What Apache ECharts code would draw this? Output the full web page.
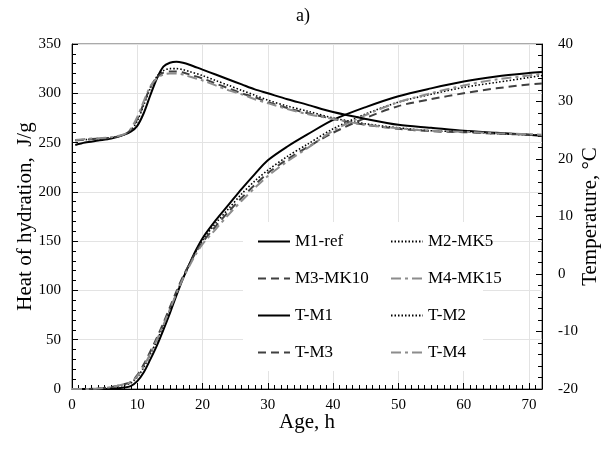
<!DOCTYPE html>
<html><head><meta charset="utf-8">
<script src="https://cdn.jsdelivr.net/npm/echarts@6/dist/echarts.min.js"></script>
<style>html,body{margin:0;padding:0;background:#fff}#c{width:606px;height:449px}</style>
</head><body><div id="c"></div>
<script>
// Heat of hydration (J/g) vs age (h)
const ageHeat = [0,2,4,6,8,9,10,11,12,13,14,15,16,17,18,19,20,22,24,26,28,30,33,36,40,45,50,55,60,65,70,72];
const heatM1 = [0,0,0,0.3,1.5,3,8,17,30,44,60,77,95,112,127,141,153,171,187,203,218,232,246,258,273,286,297,305,312,317,320.5,321.5];
const heatM2 = [0,0,0.5,1.5,4,6,12,22,35,49,64,80,97,113,127,140,151,168,183,198,211,222,236,248,264,279,291,299,306,311,316,318];
const heatM3 = [0,0,0.5,2,5,7,14,25,38,52,67,83,99,114,127,139,149,165,180,194,207,219,233,245,260,275,287,294,300,305,309,310];
const heatM4 = [0,0,0.5,2,5,7,13,23,36,50,65,81,97,112,125,137,147,162,177,191,204,216,231,244,262,278,291,300,308,314,318,320];
// Temperature (°C) vs age (h)
const ageTemp = [0.5,2,4,6,8,9,10,11,12,13,14,15,16,17,18,20,22,24,26,28,30,33,36,40,45,50,55,60,65,70,72];
const tempM1 = [22.43,22.86,23.2,23.54,24.23,24.74,25.77,28.0,31.09,34.0,36.06,36.74,36.91,36.74,36.4,35.54,34.69,33.83,32.97,32.11,31.43,30.4,29.46,28.17,26.97,25.94,25.43,24.91,24.57,24.23,24.06];
const tempM2 = [23.29,23.37,23.54,23.71,24.23,24.91,26.63,29.37,32.29,34.34,35.37,35.71,35.71,35.54,35.2,34.51,33.66,32.8,31.94,31.09,30.23,29.2,28.34,27.14,26.11,25.43,24.91,24.74,24.4,24.23,24.14];
const tempM3 = [23.2,23.37,23.54,23.71,24.23,25.09,26.97,29.71,32.46,34.17,35.03,35.2,35.2,35.03,34.69,34.0,33.14,32.29,31.43,30.74,29.89,28.86,28.0,26.97,25.94,25.26,24.83,24.66,24.4,24.23,24.06];
const tempM4 = [23.29,23.46,23.63,23.8,24.31,25.26,27.31,30.06,32.63,34.0,34.69,34.86,34.86,34.69,34.34,33.66,32.8,31.94,31.26,30.4,29.71,28.69,27.83,26.97,25.94,25.34,24.91,24.74,24.49,24.31,24.23];

const heatNames = ['M1-ref','M2-MK5','M3-MK10','M4-MK15'];
const tempNames = ['T-M1','T-M2','T-M3','T-M4'];
const xTicks = {min:0, max:72, interval:10};
const yHeatTicks = {min:0, max:350, interval:50};
const yTempTicks = {min:-20, max:40, interval:10};

const font = 'Liberation Serif, Times New Roman, serif';
const styles = [
  {color:'#000', type:'solid', width:2},
  {color:'#000', type:[1.5,2], width:1.6},
  {color:'#404040', type:[8,5], width:2},
  {color:'#8c8c8c', type:[10,4,3,4], width:2}
];
function pairs(xs, ys){ return xs.map((x,i)=>[x, ys[i]]); }
const heatData = [heatM1, heatM2, heatM3, heatM4];
const tempData = [tempM1, tempM2, tempM3, tempM4];
const series = [];
heatNames.forEach((n,i)=>series.push({name:n, type:'line', yAxisIndex:0, data:pairs(ageHeat, heatData[i]), smooth:0.3, symbol:'none', lineStyle:styles[i], itemStyle:{color:styles[i].color}}));
tempNames.forEach((n,i)=>series.push({name:n, type:'line', yAxisIndex:1, data:pairs(ageTemp, tempData[i]), smooth:0.3, symbol:'none', lineStyle:styles[i], itemStyle:{color:styles[i].color}}));

const tickFont = 15;
const axisCommon = {
  axisLine:{show:true, lineStyle:{color:'#000', width:1}},
  axisTick:{show:true, inside:true, length:6, lineStyle:{color:'#000'}},
  minorTick:{show:true, splitNumber:5, length:4, lineStyle:{color:'#000'}},
  nameMoveOverlap:false,
  nameTextStyle:{color:'#000', fontFamily:font, fontSize:21}
};
const legendText = {color:'#000', fontFamily:font, fontSize:17};
const legendCommon = {orient:'vertical', top:233, itemWidth:32, itemHeight:14, itemGap:20, textStyle:legendText, padding:0,
  itemStyle:{color:'transparent', borderWidth:0, opacity:0}};
const chart = echarts.init(document.getElementById('c'), null, {renderer:'canvas'});
chart.setOption({
  animation:false,
  backgroundColor:'#fff',
  title:{text:'a)', left:'center', top:2, textStyle:{color:'#000', fontFamily:font, fontSize:18, fontWeight:'normal'}},
  grid:{left:72, right:64, top:44, bottom:60, containLabel:false, outerBoundsMode:'none', show:true, borderColor:'#555', borderWidth:1, backgroundColor:'transparent'},
  graphic:[{type:'rect', z:1, shape:{x:243, y:222, width:240, height:149}, style:{fill:'#fff'}}],
  legend:[
    Object.assign({data:['M1-ref','M3-MK10','T-M1','T-M3'], left:257}, legendCommon),
    Object.assign({data:['M2-MK5','M4-MK15','T-M2','T-M4'], left:390}, legendCommon)
  ],
  xAxis:Object.assign({}, axisCommon, {type:'value', min:xTicks.min, max:xTicks.max, interval:xTicks.interval,
    name:'Age, h', nameLocation:'middle', nameGap:23,
    minorTick:{show:true, splitNumber:10, length:4, lineStyle:{color:'#000'}},
    axisLabel:{color:'#000', fontFamily:font, fontSize:tickFont, margin:9, showMaxLabel:false},
    splitLine:{show:true, lineStyle:{color:'#e3e3e3', width:1}}}),
  yAxis:[
    Object.assign({}, axisCommon, {type:'value', position:'left', min:yHeatTicks.min, max:yHeatTicks.max, interval:yHeatTicks.interval,
      name:'Heat of hydration,  J/g', nameLocation:'middle', nameGap:36,
      axisLabel:{color:'#000', fontFamily:font, fontSize:tickFont, margin:11},
      splitLine:{show:true, lineStyle:{color:'#e3e3e3', width:1}}}),
    Object.assign({}, axisCommon, {type:'value', position:'right', min:yTempTicks.min, max:yTempTicks.max, interval:yTempTicks.interval,
      name:'Temperature, °C', nameLocation:'middle', nameGap:38, nameRotate:90,
      axisLabel:{color:'#000', fontFamily:font, fontSize:tickFont, margin:16},
      splitLine:{show:false}})
  ],
  series:series
});
</script></body></html>
